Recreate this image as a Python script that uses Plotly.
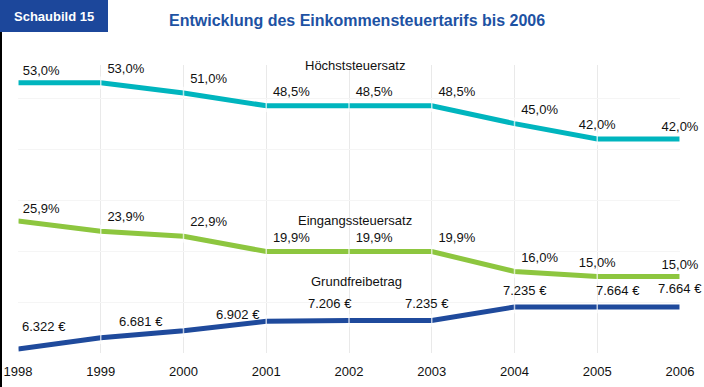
import plotly.graph_objects as go

# ---------------- data ----------------
years = [1998, 1999, 2000, 2001, 2002, 2003, 2004, 2005, 2006]
hoechst = [53.0, 53.0, 51.0, 48.5, 48.5, 48.5, 45.0, 42.0, 42.0]
eingang = [25.9, 23.9, 22.9, 19.9, 19.9, 19.9, 16.0, 15.0, 15.0]
grundfrei = [6322, 6681, 6902, 7206, 7235, 7235, 7664, 7664, 7664]

hoechst_labels = ["53,0%", "53,0%", "51,0%", "48,5%", "48,5%", "48,5%", "45,0%", "42,0%", "42,0%"]
eingang_labels = ["25,9%", "23,9%", "22,9%", "19,9%", "19,9%", "19,9%", "16,0%", "15,0%", "15,0%"]
grundfrei_labels = ["6.322 €", "6.681 €", "6.902 €", "", "7.206 €", "7.235 €", "7.235 €", "7.664 €", "7.664 €"]
year_labels = [str(y) for y in years]

title_text = "Entwicklung des Einkommensteuertarifs bis 2006"
badge_text = "Schaubild 15"
series_names = ["Höchststeuersatz", "Eingangssteuersatz", "Grundfreibetrag"]

# ---------------- style ----------------
W, H = 704, 387
ML, MR, MT, MB = 18, 24, 65, 34
FONT = "Arial, Liberation Sans, sans-serif"
C_CYAN = "#00B5BE"
C_GREEN = "#8DC63F"
C_BLUE = "#1F4A9C"
C_TITLE = "#1D52A3"
C_BADGE = "#1C479B"

pos_top = ["top right"] * 7 + ["top center", "top center"]
blue_xshift = [26, 40, 54, 0, -19, -5, 10, 21, 0]
blue_yshift = [22, 16, 16, 0, 17, 17, 16, 16, 18]
gap_sizes = [6] + [9] * (len(years) - 2) + [6]

pw = W - ML - MR
ph = H - MT - MB
def px_x(p):
    return (p - ML) / pw
def px_y(p):
    return (H - MB - p) / ph

fig = go.Figure()

def add_series(yvals, labels, color, positions, yaxis, with_text=True):
    fig.add_trace(go.Scatter(
        x=years, y=yvals, yaxis=yaxis,
        mode="lines+markers+text" if with_text else "lines+markers",
        text=labels if with_text else None,
        textposition=positions if with_text else None,
        textfont=dict(family=FONT, size=13, color="#111111"),
        line=dict(color=color, width=5),
        marker=dict(symbol="line-ns", size=gap_sizes, color="white",
                    line=dict(color="white", width=1.5)),
        cliponaxis=False, hoverinfo="skip", showlegend=False,
    ))

add_series(hoechst, hoechst_labels, C_CYAN, pos_top, "y")
add_series(eingang, eingang_labels, C_GREEN, pos_top, "y")
add_series(grundfrei, grundfrei_labels, C_BLUE, None, "y2", with_text=False)

annotations = []
for x, v, t, dx, dy in zip(years, grundfrei, grundfrei_labels, blue_xshift, blue_yshift):
    if t:
        annotations.append(dict(x=x, y=v, xref="x", yref="y2", text=t, showarrow=False,
                                xanchor="center", yanchor="middle",
                                xshift=dx, yshift=dy,
                                font=dict(family=FONT, size=13, color="#111111")))

name_font = dict(family=FONT, size=13, color="#111111")
annotations.append(dict(x=years[4], y=hoechst[4], xref="x", yref="y", text=series_names[0],
                        showarrow=False, xanchor="center", yanchor="middle",
                        xshift=6, yshift=40, font=name_font))
annotations.append(dict(x=years[4], y=eingang[4], xref="x", yref="y", text=series_names[1],
                        showarrow=False, xanchor="center", yanchor="middle",
                        xshift=6, yshift=31, font=name_font))
annotations.append(dict(x=years[4], y=grundfrei[4], xref="x", yref="y2", text=series_names[2],
                        showarrow=False, xanchor="center", yanchor="middle",
                        xshift=7, yshift=39, font=name_font))

# badge text and title
annotations.append(dict(x=px_x(54), y=px_y(16), xref="paper", yref="paper", text="<b>" + badge_text + "</b>",
                        showarrow=False, xanchor="center", yanchor="middle",
                        font=dict(family=FONT, size=13, color="white")))
annotations.append(dict(x=px_x(357), y=px_y(20), xref="paper", yref="paper", text="<b>" + title_text + "</b>",
                        showarrow=False, xanchor="center", yanchor="middle",
                        font=dict(family=FONT, size=16, color=C_TITLE)))

shapes = [
    dict(type="rect", xref="paper", yref="paper", x0=px_x(-2), x1=px_x(108), y0=px_y(32), y1=px_y(-2),
         fillcolor=C_BADGE, line=dict(width=0), layer="below"),
    dict(type="line", xref="paper", yref="paper", x0=px_x(1), x1=px_x(1), y0=px_y(32), y1=px_y(390),
         line=dict(color="black", width=2)),
]

fig.update_layout(
    width=W, height=H,
    margin=dict(l=ML, r=MR, t=MT, b=MB, pad=0, autoexpand=False),
    paper_bgcolor="white", plot_bgcolor="white",
    showlegend=False,
    annotations=annotations, shapes=shapes,
    xaxis=dict(range=[years[0], years[-1]], tickvals=years, ticktext=year_labels,
               showgrid=True, gridcolor="#e9e9e9", gridwidth=1, zeroline=False,
               showline=False, ticks="", ticklabelstandoff=9, automargin=False,
               tickfont=dict(family=FONT, size=13, color="#111111")),
    yaxis=dict(range=[0, 56.5], dtick=10, showgrid=True, gridcolor="#f5f5f5",
               zeroline=False, showticklabels=False, showline=False, automargin=False),
    yaxis2=dict(range=[6194, 15396], overlaying="y", showgrid=False, zeroline=False,
                showticklabels=False, showline=False, automargin=False),
)

fig.write_html("out.html", config={"displayModeBar": False},
               post_script="document.body.style.margin='0px';")
